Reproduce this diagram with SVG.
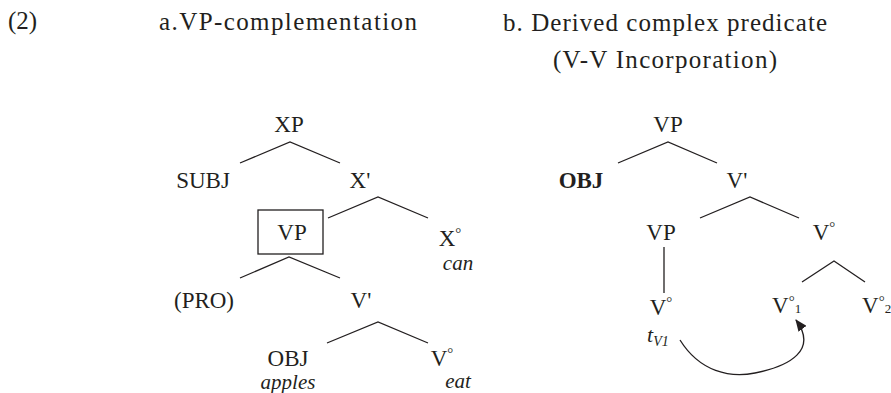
<svg xmlns="http://www.w3.org/2000/svg" width="891" height="393" viewBox="0 0 891 393" font-family="'Liberation Serif','DejaVu Serif','Noto Serif',Times,serif">
<style>
text{font-family:"Liberation Serif","Times New Roman","DejaVu Serif","Noto Serif",serif;fill:#231f20;}
.h{font-size:25px;}
.n{font-size:23px;text-anchor:middle;}
.i{font-size:21px;font-style:italic;text-anchor:middle;}
.b{font-weight:bold;}
.deg{font-size:15px;}
.sub{font-size:13px;}
.e{stroke:#231f20;stroke-width:1.3;fill:none;}
</style>
<defs>
<marker id="ah" viewBox="0 0 12 10" refX="11" refY="5" markerWidth="12" markerHeight="10" markerUnits="userSpaceOnUse" orient="auto">
<path d="M0,0 L12,5 L0,10 z" fill="#231f20"/>
</marker>
</defs>
<rect width="891" height="393" fill="#fff"/>
<g id="headers">
<text class="h" x="8" y="29" textLength="29">(2)</text>
<text class="h" x="159" y="30" textLength="258">a.VP-complementation</text>
<text class="h" x="503" y="31" textLength="324">b. Derived complex predicate</text>
<text class="h" x="553" y="68" textLength="224">(V-V Incorporation)</text>
</g>
<g id="connectors">
<polyline class="e" points="240,163 290,142 340,163"/>
<polyline class="e" points="328,218 378,197 428,218"/>
<polyline class="e" points="240,278 289,257 340,278"/>
<polyline class="e" points="327,343 378,322 428,343"/>
<polyline class="e" points="618,163 668,142 717,163"/>
<polyline class="e" points="700,218 750,197 799,218"/>
<polyline class="e" points="802,282 834,261 865,282"/>
<line class="e" x1="664" y1="247" x2="664" y2="293"/>
<path class="e" d="M680,340 C700,372 730,378 755,373 C790,366 818,350 796,320" marker-end="url(#ah)"/>
</g>
<g id="a-XP"><text class="n" x="289" y="132">XP</text></g>
<g id="a-SUBJ"><text class="n" x="203" y="188">SUBJ</text></g>
<g id="a-Xbar"><text class="n" x="360" y="188">X'</text></g>
<g id="a-VP"><rect x="258" y="210" width="65" height="44" fill="none" stroke="#231f20" stroke-width="1.3"/><text class="n" x="292" y="240">VP</text></g>
<g id="a-X0"><text class="n" x="450" y="246">X<tspan class="deg" dy="-8">°</tspan></text><text class="i" x="458" y="270">can</text></g>
<g id="a-PRO"><text class="n" x="204" y="308">(PRO)</text></g>
<g id="a-Vbar"><text class="n" x="361" y="308">V'</text></g>
<g id="a-OBJ"><text class="n" x="288" y="366">OBJ</text><text class="i" x="288" y="389">apples</text></g>
<g id="a-V0"><text class="n" x="442" y="366">V<tspan class="deg" dy="-8">°</tspan></text><text class="i" x="458" y="388">eat</text></g>
<g id="b-VP"><text class="n" x="668" y="132">VP</text></g>
<g id="b-OBJ"><text class="n b" x="581" y="188">OBJ</text></g>
<g id="b-Vbar"><text class="n" x="737" y="188">V'</text></g>
<g id="b-VP2"><text class="n" x="661" y="240">VP</text></g>
<g id="b-V0top"><text class="n" x="824" y="240">V<tspan class="deg" dy="-8">°</tspan></text></g>
<g id="b-V0low"><text class="n" x="661" y="315">V<tspan class="deg" dy="-8">°</tspan></text><text x="647" y="342" style="font-size:22px;font-style:italic">t<tspan style="font-size:14px" dy="4">V1</tspan></text></g>
<g id="b-V1"><text x="772" y="313" style="font-size:23px">V<tspan class="deg" dy="-7">°</tspan><tspan class="sub" dx="0" dy="7">1</tspan></text></g>
<g id="b-V2"><text x="862" y="313" style="font-size:23px">V<tspan class="deg" dy="-7">°</tspan><tspan class="sub" dx="0" dy="7">2</tspan></text></g>
</svg>
